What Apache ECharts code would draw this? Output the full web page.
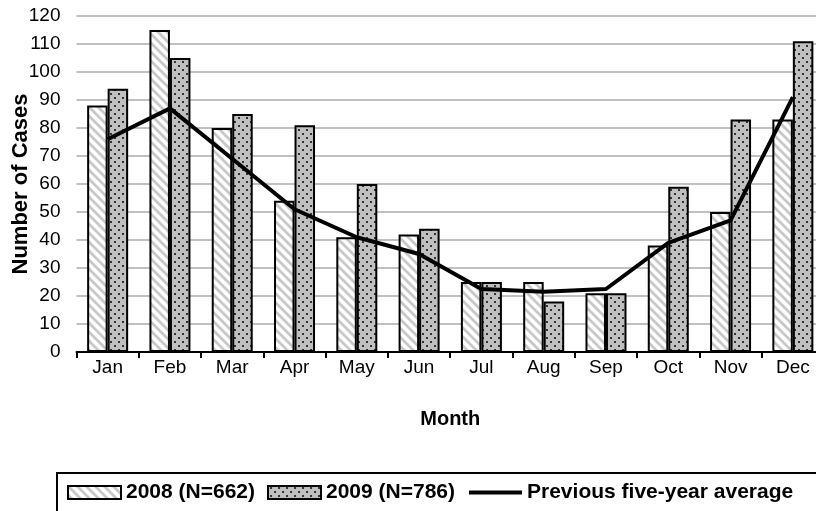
<!DOCTYPE html>
<html>
<head>
<meta charset="utf-8">
<script src="https://cdn.jsdelivr.net/npm/echarts@6/dist/echarts.min.js"></script>
<style>html,body{margin:0;padding:0;background:#fff;}#c{width:816px;height:511px;}</style>
</head>
<body>
<div id="c"></div>
<script>
const months = ['Jan','Feb','Mar','Apr','May','Jun','Jul','Aug','Sep','Oct','Nov','Dec'];
const cases2008 = [88, 115, 80, 54, 41, 42, 25, 25, 21, 38, 50, 83];
const cases2009 = [94, 105, 85, 81, 60, 44, 25, 18, 21, 59, 83, 111];
const fiveYearAvg = [76, 87, 69, 51, 41, 35, 22.5, 21.5, 22.5, 39, 47, 91];
const seriesNames = ['2008 (N=662)', '2009 (N=786)', 'Previous five-year average'];
const yTicks = [0, 120, 10];

function stripePattern() {
  const c = document.createElement('canvas');
  c.width = 9; c.height = 9;
  const g = c.getContext('2d');
  g.fillStyle = '#fff'; g.fillRect(0, 0, 9, 9);
  g.strokeStyle = '#c8c8c8'; g.lineWidth = 2.8;
  g.beginPath();
  g.moveTo(-2, -2); g.lineTo(11, 11);
  g.moveTo(-11, -2); g.lineTo(2, 11);
  g.moveTo(7, -2); g.lineTo(20, 11);
  g.stroke();
  return c;
}
function dotPattern() {
  const c = document.createElement('canvas');
  c.width = 8; c.height = 8;
  const g = c.getContext('2d');
  g.fillStyle = '#c0c0c0'; g.fillRect(0, 0, 8, 8);
  g.fillStyle = '#333';
  g.fillRect(2, 1, 2, 2);
  g.fillRect(6, 5, 2, 2);
  return c;
}

const chart = echarts.init(document.getElementById('c'));
const font = 'Liberation Sans, Arial, sans-serif';
const stripe = { image: stripePattern(), repeat: 'repeat' };
const dots = { image: dotPattern(), repeat: 'repeat' };
chart.setOption({
  animation: false,
  backgroundColor: '#fff',
  grid: { left: 76.5, right: -8, top: 16, bottom: 159, containLabel: false, outerBoundsMode: 'none' },
  xAxis: {
    type: 'category',
    data: months,
    name: 'Month',
    nameLocation: 'middle',
    nameGap: 57,
    nameMoveOverlap: false,
    nameTextStyle: { fontFamily: font, fontSize: 20, fontWeight: 'bold', color: '#000' },
    axisLine: { lineStyle: { color: '#000', width: 2 } },
    axisTick: { show: true, length: 6, lineStyle: { color: '#000', width: 2 } },
    axisLabel: { fontFamily: font, fontSize: 19, color: '#000', margin: 6 },
    splitLine: { show: false }
  },
  yAxis: {
    type: 'value',
    min: yTicks[0], max: yTicks[1], interval: yTicks[2],
    name: 'Number of Cases',
    nameLocation: 'middle',
    nameGap: 45,
    nameMoveOverlap: false,
    nameTextStyle: { fontFamily: font, fontSize: 22, fontWeight: 'bold', color: '#000' },
    axisLine: { show: false },
    axisTick: { show: false },
    axisLabel: { fontFamily: font, fontSize: 19, color: '#000', margin: 16 },
    splitLine: { lineStyle: { color: '#c0c0c0', width: 2 } }
  },
  legend: {
    left: 62, top: 477,
    itemWidth: 53, itemHeight: 13, itemGap: 12,
    textStyle: { fontFamily: font, fontSize: 21, fontWeight: 'bold', color: '#000' },
    data: [
      { name: seriesNames[0], icon: 'rect', itemStyle: { color: stripe, borderColor: '#000', borderWidth: 2 } },
      { name: seriesNames[1], icon: 'rect', itemStyle: { color: dots, borderColor: '#000', borderWidth: 2 } },
      { name: seriesNames[2], itemStyle: { color: 'rgba(0,0,0,0)', borderWidth: 0, opacity: 0 }, lineStyle: { color: '#000', width: 4 } }
    ]
  },
  graphic: [{
    type: 'rect',
    shape: { x: 57, y: 473, width: 800, height: 60 },
    style: { fill: 'none', stroke: '#000', lineWidth: 2 },
    silent: true
  }],
  series: [
    {
      name: seriesNames[0], type: 'bar', data: cases2008,
      barWidth: 20.5, barGap: '0%',
      itemStyle: { color: stripe, borderColor: '#000', borderWidth: 2 }
    },
    {
      name: seriesNames[1], type: 'bar', data: cases2009,
      barWidth: 20.5,
      itemStyle: { color: dots, borderColor: '#000', borderWidth: 2 }
    },
    {
      name: seriesNames[2], type: 'line', data: fiveYearAvg,
      symbol: 'none', z: 5,
      lineStyle: { color: '#000', width: 4 },
      itemStyle: { color: '#000' }
    }
  ]
});
</script>
</body>
</html>
